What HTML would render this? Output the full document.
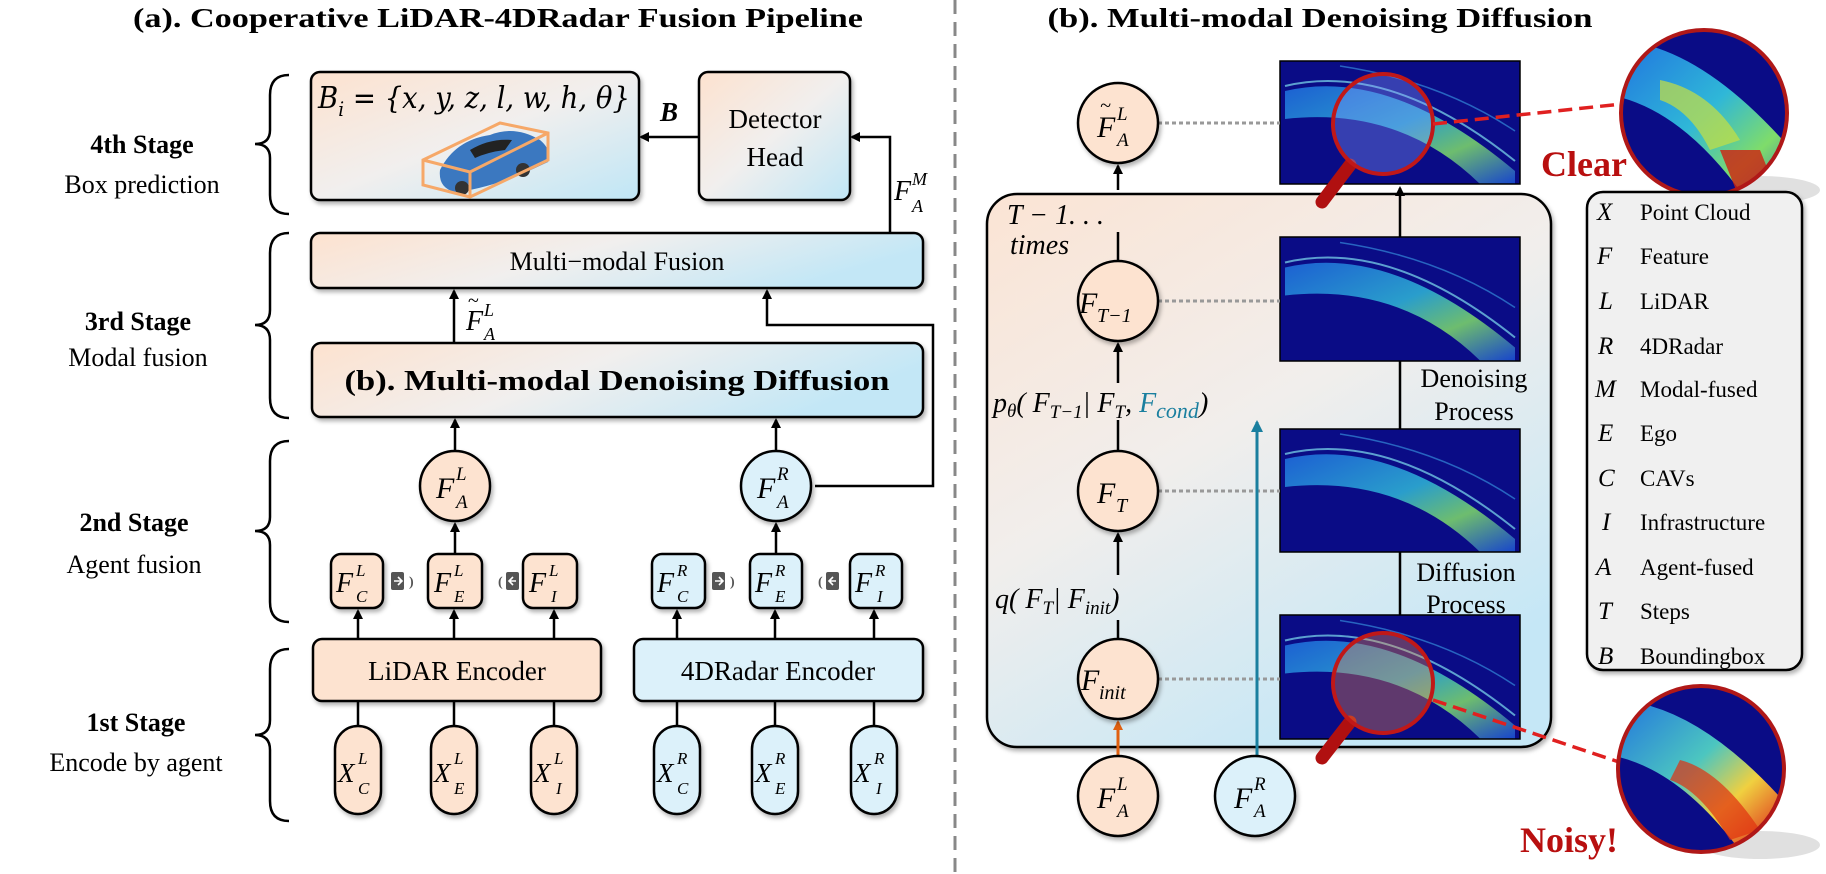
<!DOCTYPE html>
<html><head><meta charset="utf-8"><style>
html,body{margin:0;padding:0;background:#fff;}
svg{display:block;font-family:"Liberation Serif",serif;}
</style></head><body>
<svg width="1826" height="874" viewBox="0 0 1826 874" xmlns="http://www.w3.org/2000/svg">
<defs>
<linearGradient id="g1" x1="0" y1="0" x2="1" y2="1"><stop offset="0" stop-color="#fde2cf"/><stop offset="0.5" stop-color="#f1efee"/><stop offset="1" stop-color="#bfe6f6"/></linearGradient>
<linearGradient id="g2" x1="0" y1="0" x2="1" y2="0.3"><stop offset="0" stop-color="#fde2cf"/><stop offset="0.5" stop-color="#f1efee"/><stop offset="1" stop-color="#c3e7f6"/></linearGradient>
<linearGradient id="g3" x1="0" y1="0" x2="0.6" y2="1"><stop offset="0" stop-color="#fbe4d4"/><stop offset="0.5" stop-color="#f1eeec"/><stop offset="1" stop-color="#c5e7f6"/></linearGradient>
<linearGradient id="band" x1="0" y1="0" x2="1" y2="1"><stop offset="0" stop-color="#1f6fe0"/><stop offset="0.45" stop-color="#2fb7d8"/><stop offset="0.7" stop-color="#7fdc6a"/><stop offset="1" stop-color="#1a4fd8"/></linearGradient>
<linearGradient id="bandHot" x1="0" y1="0" x2="1" y2="1"><stop offset="0" stop-color="#1f6fe0"/><stop offset="0.4" stop-color="#4cc6c0"/><stop offset="0.6" stop-color="#f0d040"/><stop offset="0.8" stop-color="#e04020"/><stop offset="1" stop-color="#1a4fd8"/></linearGradient>
<filter id="sh" x="-10%" y="-10%" width="130%" height="130%"><feDropShadow dx="2" dy="3" stdDeviation="2" flood-color="#000" flood-opacity="0.3"/></filter>
<marker id="ar" markerWidth="10" markerHeight="10" refX="8" refY="5" orient="auto" markerUnits="userSpaceOnUse"><path d="M0,0 L10,5 L0,10 Z" fill="#000"/></marker>
<marker id="arO" markerWidth="10" markerHeight="10" refX="8" refY="5" orient="auto" markerUnits="userSpaceOnUse"><path d="M0,0 L10,5 L0,10 Z" fill="#e06010"/></marker>
<marker id="arT" markerWidth="12" markerHeight="12" refX="10" refY="6" orient="auto" markerUnits="userSpaceOnUse"><path d="M0,0 L12,6 L0,12 Z" fill="#1a7f9f"/></marker>
<symbol id="pc" viewBox="0 0 240 123">
<rect width="240" height="123" fill="#0a0c86"/>
<path d="M5,30 Q110,5 235,110 L235,123 L200,123 Q120,45 5,58 Z" fill="url(#band)" opacity="0.85"/>
<path d="M5,25 Q110,0 235,100" stroke="#7fe0f0" stroke-width="2" fill="none" opacity="0.7"/>
<path d="M60,5 Q160,20 235,70" stroke="#3aa0e8" stroke-width="1.5" fill="none" opacity="0.6"/>
</symbol>
</defs>

<!-- titles -->
<text x="498" y="27" font-size="27" font-weight="bold" text-anchor="middle" textLength="730" lengthAdjust="spacingAndGlyphs">(a). Cooperative LiDAR-4DRadar Fusion Pipeline</text>
<text x="1320" y="27" font-size="27" font-weight="bold" text-anchor="middle" textLength="545" lengthAdjust="spacingAndGlyphs">(b). Multi-modal Denoising Diffusion</text>
<line x1="955" y1="0" x2="955" y2="874" stroke="#888" stroke-width="3" stroke-dasharray="14,8"/>

<!-- stage labels -->
<g font-size="26" text-anchor="middle">
<text x="142" y="153" font-weight="bold">4th Stage</text>
<text x="142" y="193">Box prediction</text>
<text x="138" y="330" font-weight="bold">3rd Stage</text>
<text x="138" y="366">Modal fusion</text>
<text x="134" y="531" font-weight="bold">2nd Stage</text>
<text x="134" y="573">Agent fusion</text>
<text x="136" y="731" font-weight="bold">1st Stage</text>
<text x="136" y="771">Encode by agent</text>
</g>
<g fill="none" stroke="#000" stroke-width="2.5">
<path d="M289,75 Q270,75 270,95 L270,130 Q270,144 255,144 Q270,144 270,158 L270,195 Q270,214 289,214"/>
<path d="M289,233 Q270,233 270,253 L270,310 Q270,325 255,325 Q270,325 270,340 L270,398 Q270,418 289,418"/>
<path d="M289,441 Q270,441 270,461 L270,517 Q270,531 255,531 Q270,531 270,545 L270,602 Q270,622 289,622"/>
<path d="M289,649 Q270,649 270,669 L270,720 Q270,735 255,735 Q270,735 270,750 L270,801 Q270,821 289,821"/>
</g>

<!-- 4th stage boxes -->
<rect x="311" y="72" width="328" height="128" rx="9" fill="url(#g1)" stroke="#000" stroke-width="2.5" filter="url(#sh)"/>
<text x="318" y="108" font-size="30" font-style="italic" font-family="'DejaVu Serif',serif" textLength="312" lengthAdjust="spacingAndGlyphs">B<tspan font-size="20" dy="8">i</tspan><tspan dy="-8"> = {x, y, z, l, w, h, θ}</tspan></text>
<!-- car -->
<g>
<path d="M440,170 Q455,140 490,135 Q515,125 540,140 Q552,150 548,162 L520,175 Q480,190 455,192 Q438,188 440,170 Z" fill="#3b78c0"/>
<path d="M470,150 Q490,138 512,140 L505,150 Q488,152 475,158 Z" fill="#222"/>
<circle cx="462" cy="188" r="7" fill="#333"/><circle cx="523" cy="170" r="7" fill="#333"/>
<path d="M423,160 L500,123 L548,133 L548,160 L470,197 L423,185 Z" fill="none" stroke="#f6a868" stroke-width="3"/>
<path d="M423,160 L470,172 L548,133 M470,172 L470,197" fill="none" stroke="#f6a868" stroke-width="3"/>
</g>
<rect x="699" y="72" width="151" height="128" rx="9" fill="url(#g1)" stroke="#000" stroke-width="2.5" filter="url(#sh)"/>
<text x="775" y="128" font-size="27" text-anchor="middle">Detector</text>
<text x="775" y="166" font-size="27" text-anchor="middle">Head</text>
<line x1="699" y1="137" x2="641" y2="137" stroke="#000" stroke-width="2.5" marker-end="url(#ar)"/>
<text x="660" y="121" font-size="27" font-weight="bold" font-style="italic">B</text>
<polyline points="890,233 890,137 852,137" fill="none" stroke="#000" stroke-width="2.5" marker-end="url(#ar)"/>
<text x="894" y="200" font-size="28" font-style="italic">F</text><text x="912" y="185" font-size="18" font-style="italic">M</text><text x="912" y="212" font-size="18" font-style="italic">A</text>

<!-- fusion -->
<rect x="311" y="233" width="612" height="55" rx="9" fill="url(#g2)" stroke="#000" stroke-width="2.5" filter="url(#sh)"/>
<text x="617" y="270" font-size="26" text-anchor="middle">Multi−modal Fusion</text>
<line x1="454" y1="343" x2="454" y2="291" stroke="#000" stroke-width="2.5" marker-end="url(#ar)"/>
<text x="466" y="330" font-size="28" font-style="italic">F</text><text x="468" y="307" font-size="20">~</text><text x="484" y="316" font-size="18" font-style="italic">L</text><text x="484" y="340" font-size="18" font-style="italic">A</text>
<polyline points="815,486 933,486 933,325 767,325 767,291" fill="none" stroke="#000" stroke-width="2.5" marker-end="url(#ar)"/>

<rect x="312" y="343" width="611" height="74" rx="9" fill="url(#g2)" stroke="#000" stroke-width="2.5" filter="url(#sh)"/>
<text x="617" y="390" font-size="29" font-weight="bold" text-anchor="middle" textLength="545" lengthAdjust="spacingAndGlyphs">(b). Multi-modal Denoising Diffusion</text>

<!-- agent fused circles -->
<line x1="455" y1="451" x2="455" y2="420" stroke="#000" stroke-width="2.5" marker-end="url(#ar)"/>
<line x1="776" y1="451" x2="776" y2="420" stroke="#000" stroke-width="2.5" marker-end="url(#ar)"/>
<circle cx="455" cy="486" r="35" fill="#fde3d0" stroke="#000" stroke-width="2.5" filter="url(#sh)"/>
<circle cx="776" cy="486" r="35" fill="#dcf1fa" stroke="#000" stroke-width="2.5" filter="url(#sh)"/>
<g font-style="italic">
<text x="436" y="498" font-size="30">F</text><text x="456" y="480" font-size="19">L</text><text x="456" y="508" font-size="19">A</text>
<text x="757" y="498" font-size="30">F</text><text x="777" y="480" font-size="19">R</text><text x="777" y="508" font-size="19">A</text>
</g>
<line x1="455" y1="554" x2="455" y2="524" stroke="#000" stroke-width="2.5" marker-end="url(#ar)"/>
<line x1="776" y1="554" x2="776" y2="524" stroke="#000" stroke-width="2.5" marker-end="url(#ar)"/>

<!-- small feature boxes -->
<g stroke="#000" stroke-width="2.5" filter="url(#sh)">
<rect x="331" y="554" width="52" height="54" rx="10" fill="#fde3d0"/>
<rect x="428" y="554" width="54" height="54" rx="10" fill="#fde3d0"/>
<rect x="523" y="554" width="54" height="54" rx="10" fill="#fde3d0"/>
<rect x="652" y="554" width="53" height="54" rx="10" fill="#dcf1fa"/>
<rect x="750" y="554" width="52" height="54" rx="10" fill="#dcf1fa"/>
<rect x="850" y="554" width="52" height="54" rx="10" fill="#dcf1fa"/>
</g>
<g font-style="italic">
<text x="336" y="592" font-size="28">F</text><text x="356" y="576" font-size="17">L</text><text x="356" y="602" font-size="17">C</text>
<text x="434" y="592" font-size="28">F</text><text x="454" y="576" font-size="17">L</text><text x="454" y="602" font-size="17">E</text>
<text x="529" y="592" font-size="28">F</text><text x="549" y="576" font-size="17">L</text><text x="551" y="602" font-size="17">I</text>
<text x="657" y="592" font-size="28">F</text><text x="677" y="576" font-size="17">R</text><text x="677" y="602" font-size="17">C</text>
<text x="755" y="592" font-size="28">F</text><text x="775" y="576" font-size="17">R</text><text x="775" y="602" font-size="17">E</text>
<text x="855" y="592" font-size="28">F</text><text x="875" y="576" font-size="17">R</text><text x="877" y="602" font-size="17">I</text>
</g>
<!-- comm icons -->
<g fill="#555" font-size="14" font-weight="bold">
<rect x="391" y="572" width="13" height="18" rx="2"/><text x="409" y="586">)</text>
<rect x="506" y="572" width="13" height="18" rx="2"/><text x="498" y="586">(</text>
<rect x="712" y="572" width="13" height="18" rx="2"/><text x="730" y="586">)</text>
<rect x="826" y="572" width="13" height="18" rx="2"/><text x="818" y="586">(</text>
</g>
<g stroke="#fff" stroke-width="1.6" fill="none">
<path d="M394,581 H401 M398,577 L402,581 L398,585"/><path d="M516,581 H509 M513,577 L509,581 L513,585"/>
<path d="M715,581 H722 M719,577 L723,581 L719,585"/><path d="M836,581 H829 M833,577 L829,581 L833,585"/>
</g>

<!-- encoders -->
<g stroke="#000" stroke-width="2.5">
<line x1="358" y1="639" x2="358" y2="611" marker-end="url(#ar)"/>
<line x1="454" y1="639" x2="454" y2="611" marker-end="url(#ar)"/>
<line x1="554" y1="639" x2="554" y2="611" marker-end="url(#ar)"/>
<line x1="677" y1="639" x2="677" y2="611" marker-end="url(#ar)"/>
<line x1="775" y1="639" x2="775" y2="611" marker-end="url(#ar)"/>
<line x1="874" y1="639" x2="874" y2="611" marker-end="url(#ar)"/>
<line x1="358" y1="701" x2="358" y2="726"/><line x1="454" y1="701" x2="454" y2="726"/><line x1="554" y1="701" x2="554" y2="726"/>
<line x1="677" y1="701" x2="677" y2="726"/><line x1="775" y1="701" x2="775" y2="726"/><line x1="874" y1="701" x2="874" y2="726"/>
</g>
<rect x="313" y="639" width="288" height="62" rx="9" fill="#fde3d0" stroke="#000" stroke-width="2.5" filter="url(#sh)"/>
<rect x="634" y="639" width="289" height="62" rx="9" fill="#dcf1fa" stroke="#000" stroke-width="2.5" filter="url(#sh)"/>
<text x="457" y="680" font-size="27" text-anchor="middle">LiDAR Encoder</text>
<text x="778" y="680" font-size="27" text-anchor="middle">4DRadar Encoder</text>

<!-- pills -->
<g stroke="#000" stroke-width="2.5" filter="url(#sh)">
<rect x="335" y="726" width="46" height="88" rx="23" fill="#fde3d0"/>
<rect x="431" y="726" width="46" height="88" rx="23" fill="#fde3d0"/>
<rect x="531" y="726" width="46" height="88" rx="23" fill="#fde3d0"/>
<rect x="654" y="726" width="46" height="88" rx="23" fill="#dcf1fa"/>
<rect x="752" y="726" width="46" height="88" rx="23" fill="#dcf1fa"/>
<rect x="851" y="726" width="46" height="88" rx="23" fill="#dcf1fa"/>
</g>
<g font-style="italic">
<text x="338" y="782" font-size="27">X</text><text x="358" y="764" font-size="17">L</text><text x="358" y="794" font-size="17">C</text>
<text x="434" y="782" font-size="27">X</text><text x="454" y="764" font-size="17">L</text><text x="454" y="794" font-size="17">E</text>
<text x="534" y="782" font-size="27">X</text><text x="554" y="764" font-size="17">L</text><text x="556" y="794" font-size="17">I</text>
<text x="657" y="782" font-size="27">X</text><text x="677" y="764" font-size="17">R</text><text x="677" y="794" font-size="17">C</text>
<text x="755" y="782" font-size="27">X</text><text x="775" y="764" font-size="17">R</text><text x="775" y="794" font-size="17">E</text>
<text x="854" y="782" font-size="27">X</text><text x="874" y="764" font-size="17">R</text><text x="876" y="794" font-size="17">I</text>
</g>

<!-- ===== right panel ===== -->
<rect x="987" y="194" width="564" height="553" rx="30" fill="url(#g3)" stroke="#000" stroke-width="2.5" filter="url(#sh)"/>
<!-- images -->
<use href="#pc" x="1280" y="61" width="240" height="123"/>
<use href="#pc" x="1280" y="237" width="240" height="124"/>
<use href="#pc" x="1280" y="429" width="240" height="123"/>
<use href="#pc" x="1280" y="615" width="240" height="124"/>
<g stroke="#000" stroke-width="1.5" fill="none">
<rect x="1280" y="61" width="240" height="123"/><rect x="1280" y="237" width="240" height="124"/><rect x="1280" y="429" width="240" height="123"/><rect x="1280" y="615" width="240" height="124"/>
</g>
<!-- process line -->
<g stroke="#000" stroke-width="2.5">
<line x1="1400" y1="615" x2="1400" y2="552"/><line x1="1400" y1="429" x2="1400" y2="361"/>
<line x1="1400" y1="237" x2="1400" y2="188" marker-end="url(#ar)"/>
</g>
<g font-size="26" text-anchor="middle">
<text x="1474" y="387">Denoising</text><text x="1474" y="420">Process</text>
<text x="1466" y="581">Diffusion</text><text x="1466" y="613">Process</text>
</g>
<!-- dotted connectors -->
<g stroke="#999" stroke-width="3" stroke-dasharray="4,3">
<line x1="1158" y1="123" x2="1280" y2="123"/><line x1="1158" y1="301" x2="1280" y2="301"/>
<line x1="1158" y1="491" x2="1280" y2="491"/><line x1="1158" y1="679" x2="1280" y2="679"/>
</g>
<!-- chain lines -->
<g stroke="#000" stroke-width="2.5">
<line x1="1118" y1="190" x2="1118" y2="166" marker-end="url(#ar)"/>
<line x1="1118" y1="261" x2="1118" y2="232"/>
<line x1="1118" y1="383" x2="1118" y2="344" marker-end="url(#ar)"/>
<line x1="1118" y1="451" x2="1118" y2="420"/>
<line x1="1118" y1="575" x2="1118" y2="534" marker-end="url(#ar)"/>
<line x1="1118" y1="639" x2="1118" y2="620"/>
</g>
<line x1="1118" y1="756" x2="1118" y2="722" stroke="#e06010" stroke-width="3" marker-end="url(#arO)"/>
<line x1="1257" y1="756" x2="1257" y2="422" stroke="#1a7f9f" stroke-width="3" marker-end="url(#arT)"/>
<!-- circles -->
<g stroke="#000" stroke-width="2.5" filter="url(#sh)">
<circle cx="1118" cy="123" r="40" fill="#fde3d0"/>
<circle cx="1118" cy="301" r="40" fill="#fde3d0"/>
<circle cx="1118" cy="491" r="40" fill="#fde3d0"/>
<circle cx="1118" cy="679" r="40" fill="#fde3d0"/>
<circle cx="1118" cy="796" r="40" fill="#fde3d0"/>
<circle cx="1255" cy="796" r="40" fill="#dcf1fa"/>
</g>
<g font-style="italic">
<text x="1097" y="137" font-size="30">F</text><text x="1100" y="112" font-size="20">~</text><text x="1117" y="120" font-size="19">L</text><text x="1117" y="146" font-size="19">A</text>
<text x="1079" y="313" font-size="30">F</text><text x="1097" y="322" font-size="20">T−1</text>
<text x="1097" y="503" font-size="30">F</text><text x="1116" y="512" font-size="20">T</text>
<text x="1081" y="690" font-size="30">F</text><text x="1099" y="699" font-size="20">init</text>
<text x="1097" y="808" font-size="30">F</text><text x="1117" y="790" font-size="19">L</text><text x="1117" y="817" font-size="19">A</text>
<text x="1234" y="808" font-size="30">F</text><text x="1254" y="790" font-size="19">R</text><text x="1254" y="817" font-size="19">A</text>
</g>
<g font-style="italic" font-size="28">
<text x="1007" y="224">T − 1. . .</text>
<text x="1010" y="254">times</text>
<text x="993" y="412">p<tspan font-size="19" dy="5">θ</tspan><tspan dy="-5">( F</tspan><tspan font-size="19" dy="6">T−1</tspan><tspan dy="-6">| F</tspan><tspan font-size="19" dy="6">T</tspan><tspan dy="-6">, </tspan><tspan fill="#1a7f9f">F</tspan><tspan fill="#1a7f9f" font-size="22" dy="6">cond</tspan><tspan dy="-6">)</tspan></text>
<text x="995" y="608">q( F<tspan font-size="19" dy="6">T</tspan><tspan dy="-6">| F</tspan><tspan font-size="19" dy="6">init</tspan><tspan dy="-6">)</tspan></text>
</g>

<!-- magnifiers -->
<g>
<line x1="1350" y1="165" x2="1322" y2="202" stroke="#b01010" stroke-width="13" stroke-linecap="round"/>
<circle cx="1383" cy="124" r="50" fill="#8aa0ff" fill-opacity="0.35" stroke="#c01818" stroke-width="4"/>
<line x1="1350" y1="722" x2="1322" y2="758" stroke="#b01010" stroke-width="13" stroke-linecap="round"/>
<circle cx="1383" cy="683" r="50" fill="#ff9040" fill-opacity="0.35" stroke="#c01818" stroke-width="4"/>
</g>
<line x1="1433" y1="124" x2="1622" y2="104" stroke="#e02020" stroke-width="3.5" stroke-dasharray="14,7"/>
<line x1="1433" y1="700" x2="1622" y2="763" stroke="#e02020" stroke-width="3.5" stroke-dasharray="14,7"/>
<!-- zoom circles -->
<ellipse cx="1760" cy="190" rx="60" ry="14" fill="#ccc" opacity="0.6"/>
<ellipse cx="1760" cy="845" rx="60" ry="14" fill="#ccc" opacity="0.6"/>
<clipPath id="c1"><circle cx="1704" cy="113" r="83"/></clipPath>
<clipPath id="c2"><circle cx="1701" cy="769" r="83"/></clipPath>
<g clip-path="url(#c1)">
<rect x="1600" y="20" width="210" height="190" fill="#0a0c86"/>
<path d="M1610,40 Q1700,40 1800,160 L1800,220 L1760,220 Q1690,110 1610,95 Z" fill="url(#band)"/>
<path d="M1660,80 Q1710,90 1740,140 L1710,150 Q1690,110 1660,100 Z" fill="#c8e040" opacity="0.7"/>
<path d="M1720,150 L1760,150 L1780,200 L1740,200 Z" fill="#d02010" opacity="0.8"/>
</g>
<circle cx="1704" cy="113" r="83" fill="none" stroke="#b01818" stroke-width="4"/>
<g clip-path="url(#c2)">
<rect x="1600" y="680" width="210" height="180" fill="#0a0c86"/>
<path d="M1610,700 Q1700,700 1800,820 L1800,880 L1760,880 Q1690,770 1610,755 Z" fill="url(#bandHot)"/>
<path d="M1680,760 Q1720,770 1760,830 L1730,840 Q1700,790 1670,780 Z" fill="#e03010" opacity="0.7"/>
</g>
<circle cx="1701" cy="769" r="83" fill="none" stroke="#b01818" stroke-width="4"/>
<text x="1541" y="176" font-size="36" font-weight="bold" fill="#b80f0f">Clear</text>
<text x="1520" y="852" font-size="36" font-weight="bold" fill="#b80f0f">Noisy!</text>

<!-- legend -->
<rect x="1587" y="192" width="215" height="478" rx="16" fill="#f0f0f0" stroke="#000" stroke-width="2.5" filter="url(#sh)"/>
<g font-size="23">
<g font-style="italic" font-size="25">
<text x="1597" y="220">X</text><text x="1597" y="264">F</text><text x="1599" y="309">L</text><text x="1598" y="354">R</text><text x="1595" y="397">M</text><text x="1598" y="441">E</text><text x="1598" y="486">C</text><text x="1602" y="530">I</text><text x="1596" y="575">A</text><text x="1598" y="619">T</text><text x="1598" y="664">B</text>
</g>
<text x="1640" y="220">Point Cloud</text><text x="1640" y="264">Feature</text><text x="1640" y="309">LiDAR</text><text x="1640" y="354">4DRadar</text><text x="1640" y="397">Modal-fused</text><text x="1640" y="441">Ego</text><text x="1640" y="486">CAVs</text><text x="1640" y="530">Infrastructure</text><text x="1640" y="575">Agent-fused</text><text x="1640" y="619">Steps</text><text x="1640" y="664">Boundingbox</text>
</g>
</svg>
</body></html>
